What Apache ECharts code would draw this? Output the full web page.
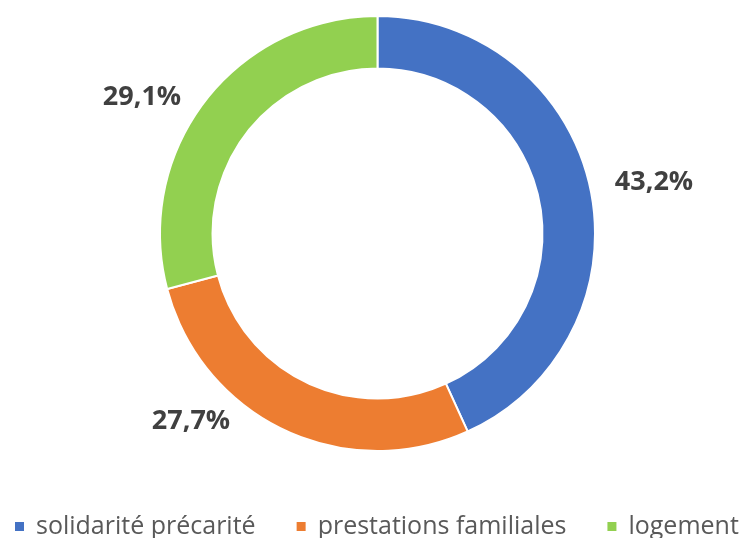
<!DOCTYPE html>
<html><head><meta charset="utf-8">
<script src="https://cdn.jsdelivr.net/npm/echarts@6/dist/echarts.min.js"></script>
<style>html,body{margin:0;padding:0;background:#fff}#c{width:749px;height:538px}</style>
</head><body><div id="c"></div>
<script>
const categories = ['solidarité précarité', 'prestations familiales', 'logement'];
const values = [43.2, 27.7, 29.1];
const colors = ['#4472C4', '#ED7D31', '#92D050'];
const labelPos = [[654, 182], [191, 421], [142, 97]];

const chart = echarts.init(document.getElementById('c'));
chart.setOption({
  animation: false,
  color: colors,
  legend: {
    left: 13, top: 514, padding: 0,
    icon: 'rect', itemWidth: 11, itemHeight: 11, itemGap: 39,
    textStyle: { fontFamily: 'Open Sans', fontSize: 25, color: '#595959', padding: [0, 0, 0, 6] },
    data: categories
  },
  series: [{
    type: 'pie',
    center: [377.5, 233.5],
    radius: [165, 217.5],
    startAngle: 90,
    clockwise: true,
    itemStyle: { borderColor: '#fff', borderWidth: 2 },
    label: {
      show: true, position: 'outside',
      formatter: p => p.value.toFixed(1).replace('.', ',') + '%',
      fontFamily: 'Open Sans', fontWeight: 'bold', fontSize: 27, color: '#404040'
    },
    labelLine: { show: false },
    labelLayout: p => ({ x: labelPos[p.dataIndex][0], y: labelPos[p.dataIndex][1], align: 'center', verticalAlign: 'middle' }),
    emphasis: { disabled: true },
    data: categories.map((n, i) => ({ name: n, value: values[i] }))
  }]
});
</script></body></html>
